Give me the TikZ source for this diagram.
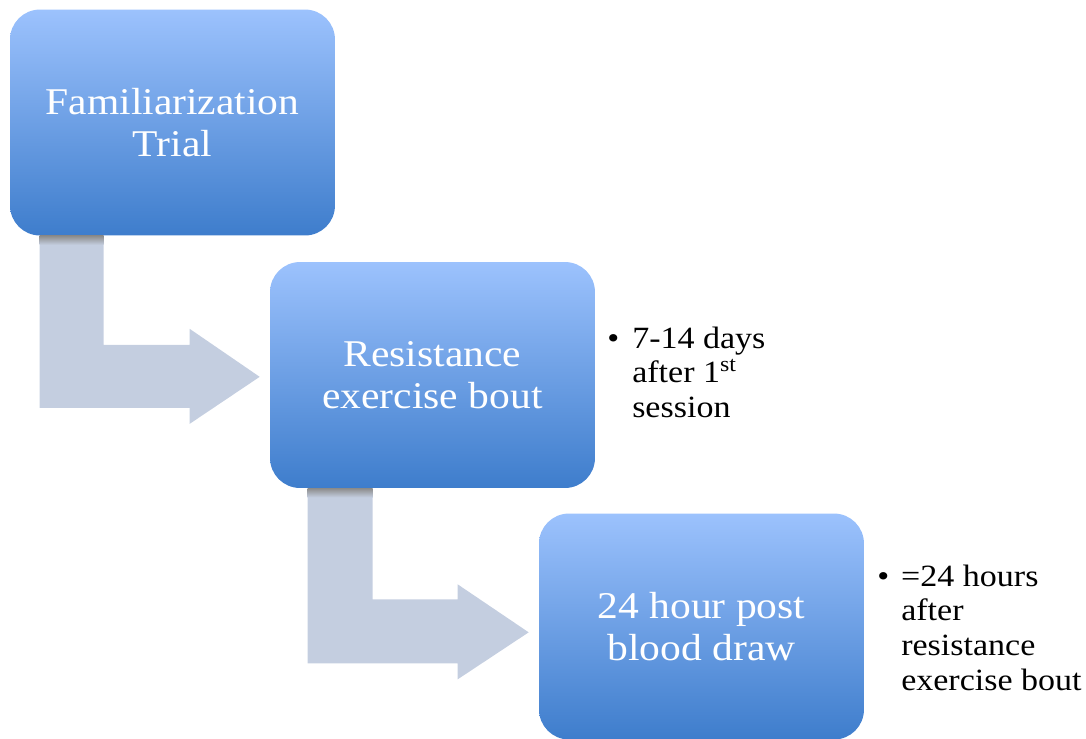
\documentclass[tikz,border=0pt]{standalone}
\usepackage{fontspec}
\setmainfont{Liberation Serif}[FakeStretch=1.1]
\usepackage{tikz}

\definecolor{boxtop}{RGB}{156,194,253}
\definecolor{boxbot}{RGB}{62,125,204}
\definecolor{bendfill}{RGB}{196,206,224}

\begin{document}
\begin{tikzpicture}[%
    x=0.02cm, y=-0.02cm,
    stage/.style={rectangle, rounded corners=0.6cm, top color=boxtop,
      bottom color=boxbot, minimum width=6.5cm, minimum height=4.52cm,
      inner sep=0pt, align=center, text=white,
      font=\fontsize{21.5pt}{23.8pt}\selectfont},
    note/.style={anchor=base west, inner sep=0pt,
      font=\fontsize{17.6pt}{19.8pt}\selectfont},
    bentarrow/.style={fill=bendfill},
  ]
    \useasboundingbox (0,0) rectangle (1086,738);

    \node[stage] (fam)    at (172.5,122.5) {Familiarization\\Trial};
    \node[stage] (resist) at (432.5,375)   {Resistance\\exercise bout};
    \node[stage] (blood)  at (701.5,626.5) {24 hour post\\blood draw};

    % bent arrows
    \fill[bentarrow] (fam.south west) ++(30,0) -- ++(0,172) -- ++(150,0)
      -- ++(0,16) -- ++(70,-47) -- ++(-70,-48) -- ++(0,16) -- ++(-86,0)
      -- ++(0,-109) -- cycle;
    \fill[bentarrow] (resist.south west) ++(38,0) -- ++(0,175) -- ++(150,0)
      -- ++(0,16) -- ++(71,-47) -- ++(-71,-48) -- ++(0,15) -- ++(-85,0)
      -- ++(0,-111) -- cycle;
    \shade[top color=black!45, bottom color=bendfill]
      (fam.south west) ++(30,0) rectangle ++(64,9);
    \shade[top color=black!45, bottom color=bendfill]
      (resist.south west) ++(38,0) rectangle ++(65,9);

    \node[note] (after1) at (607,348) {%
      \begin{tabular}[t]{@{}l@{\hspace{0.26cm}}l@{}}
        \textbullet & 7-14 days\\
                    & after 1\textsuperscript{st}\\
                    & session
      \end{tabular}};
    \node[note] (after2) at (877,586) {%
      \begin{tabular}[t]{@{}l@{\hspace{0.24cm}}l@{}}
        \textbullet & =24 hours\\
                    & after\\
                    & resistance\\
                    & exercise bout
      \end{tabular}};
  \end{tikzpicture}
\end{document}
